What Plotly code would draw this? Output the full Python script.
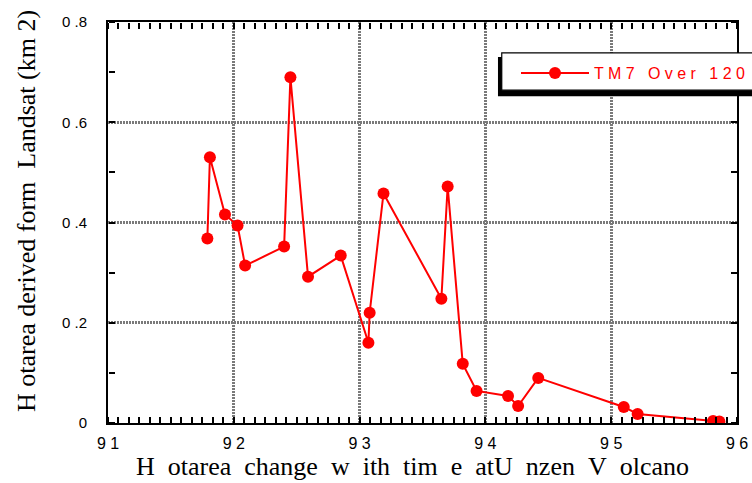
import plotly.graph_objects as go

# Data (year as decimal, hot area km2)
years = [91.79, 91.81, 91.93, 92.03, 92.09, 92.40, 92.45, 92.59, 92.85,
         93.07, 93.08, 93.19, 93.65, 93.70, 93.82, 93.93, 94.18, 94.26,
         94.42, 95.10, 95.21, 95.81, 95.86]
hot_area = [0.368, 0.530, 0.416, 0.394, 0.314, 0.352, 0.690, 0.292, 0.334,
            0.160, 0.220, 0.458, 0.248, 0.472, 0.118, 0.064, 0.054, 0.034,
            0.090, 0.032, 0.018, 0.004, 0.003]

x_tick_labels = {"91": "9 1", "92": "9 2", "93": "9 3", "94": "9 4",
                 "95": "9 5", "96": "9 6"}
y_tick_labels = {"0.2": "0 .2", "0.4": "0 .4", "0.6": "0 .6", "0.8": "0 .8"}

series_name = "T M 7\u00a0\u00a0 O v e r\u00a0\u00a0 1 2 0"
NB = "\u00a0\u00a0"
x_title = NB.join(["H", "otarea", "change", "w", "ith", "tim", "e", "atU", "nzen", "V", "olcano"])
y_title = "H otarea derived form  Landsat (km 2)"

X_RANGE = [91, 96]
Y_RANGE = [0, 0.8]
RED = "#ff0000"

fig = go.Figure()
# empty traces carrying the small monthly / 0.1 tick axes on each frame side
fig.add_trace(go.Scatter(x=[], y=[], xaxis="x2", yaxis="y2",
                         showlegend=False, hoverinfo="skip"))
fig.add_trace(go.Scatter(x=[], y=[], xaxis="x3", yaxis="y3",
                         showlegend=False, hoverinfo="skip"))
fig.add_trace(go.Scatter(
    x=years, y=hot_area, mode="lines+markers", name=series_name,
    line=dict(color=RED, width=2),
    marker=dict(color=RED, size=12),
))

grid = dict(gridcolor="#7a7a7a", gridwidth=2.5, griddash="2px,1px")
small_x = dict(range=X_RANGE, overlaying="x", anchor="free",
               tickmode="linear", tick0=91, dtick=1/12,
               ticks="outside", ticklen=6, tickwidth=1.5, tickcolor="black",
               showticklabels=False, showgrid=False, zeroline=False,
               showline=False)
small_y = dict(range=Y_RANGE, overlaying="y", anchor="free",
               tickmode="linear", tick0=0, dtick=0.1,
               ticks="outside", ticklen=6, tickwidth=1.5, tickcolor="black",
               showticklabels=False, showgrid=False, zeroline=False,
               showline=False)

fig.update_layout(
    xaxis=dict(range=X_RANGE, tickmode="linear", tick0=91, dtick=1,
               labelalias=x_tick_labels, ticks="",
               showline=True, linecolor="black", linewidth=2, mirror=True,
               tickfont=dict(family="Liberation Sans", size=16, color="black"),
               ticklabelstandoff=5, zeroline=False, showgrid=True, **grid),
    yaxis=dict(range=Y_RANGE, tickmode="linear", tick0=0, dtick=0.2,
               labelalias=y_tick_labels, ticks="",
               showline=True, linecolor="black", linewidth=2, mirror=True,
               tickfont=dict(family="Liberation Sans", size=15, color="black"),
               ticklabelstandoff=16, zeroline=False, showgrid=True, **grid),
    xaxis2=dict(side="top", position=0, **small_x),
    xaxis3=dict(side="bottom", position=1, **small_x),
    yaxis2=dict(side="right", position=0, **small_y),
    yaxis3=dict(side="left", position=1, **small_y),
)

# legend frame with drop shadow (decoration)
fig.add_shape(type="rect", xref="paper", yref="paper",
              x0=0.620, x1=1.04, y0=0.815, y1=0.913,
              fillcolor="black", line=dict(width=0), layer="above")
fig.add_shape(type="rect", xref="paper", yref="paper",
              x0=0.626, x1=1.04, y0=0.830, y1=0.923,
              fillcolor="white", line=dict(color="black", width=1.2), layer="above")

fig.add_annotation(text=x_title, xref="paper", yref="paper",
                   x=(412 - 108) / 629, y=(423 - 466) / 401,
                   xanchor="center", yanchor="middle", showarrow=False,
                   font=dict(family="Liberation Serif", size=26, color="black"))
fig.add_annotation(text=y_title, xref="paper", yref="paper",
                   x=(27 - 108) / 629, y=(423 - 211) / 401,
                   xanchor="center", yanchor="middle", textangle=-90,
                   showarrow=False,
                   font=dict(family="Liberation Serif", size=26, color="black"))

fig.update_layout(
    width=752, height=483,
    margin=dict(l=108, r=15, t=22, b=60, autoexpand=False),
    paper_bgcolor="white", plot_bgcolor="white",
    showlegend=True,
    legend=dict(x=(516 - 108) / 629, y=(423 - 73) / 401, xanchor="left",
                yanchor="middle",
                bgcolor="rgba(0,0,0,0)", borderwidth=0, itemwidth=68,
                font=dict(family="Liberation Sans", size=16, color=RED)),
)

fig.write_html("out.html")
